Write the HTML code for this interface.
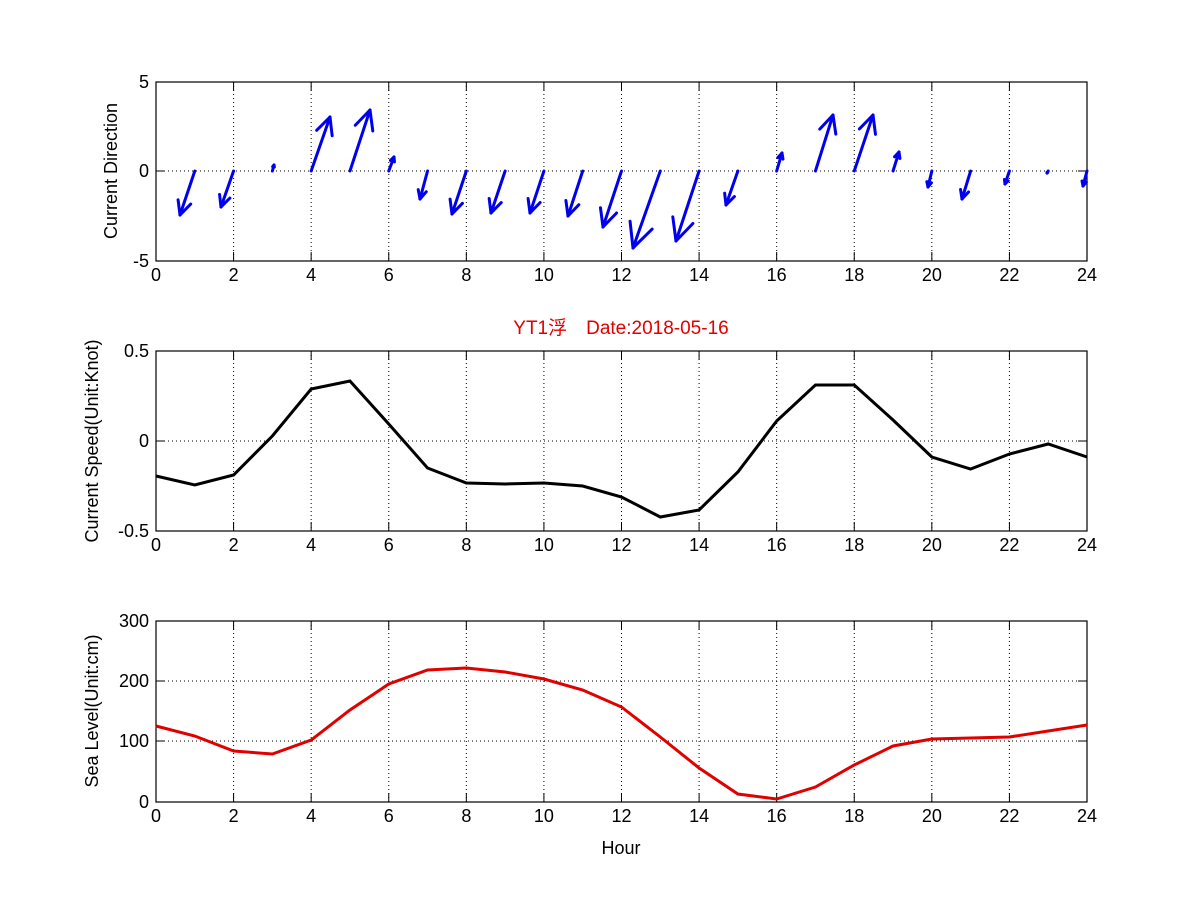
<!DOCTYPE html>
<html><head><meta charset="utf-8"><style>
body{margin:0;background:#fff;width:1201px;height:901px;overflow:hidden}
svg{display:block}
text{font-family:"Liberation Sans","Noto Sans CJK SC",sans-serif;font-size:18px;fill:#000}
</style></head><body>
<svg id="s" width="1201" height="901" xmlns="http://www.w3.org/2000/svg">
<rect width="1201" height="901" fill="#fff"/>
<g id="g"></g>
<text x="621" y="334" text-anchor="middle" style="fill:#e00000;font-size:19px">YT1浮　Date:2018-05-16</text>
<text x="621" y="854" text-anchor="middle">Hour</text>
<text transform="translate(117,171) rotate(-90)" text-anchor="middle">Current Direction</text>
<text transform="translate(98,441) rotate(-90)" text-anchor="middle">Current Speed(Unit:Knot)</text>
<text transform="translate(98,711) rotate(-90)" text-anchor="middle">Sea Level(Unit:cm)</text>
</svg>
<script>
const g=document.getElementById('g');let h='';
const X0=156,X1=1087,xs=h_=> X0+(X1-X0)*h_/24;
function axes(yt,yb,ticks,labels){
 for(let i=1;i<12;i++){const x=xs(i*2);h+=`<line x1="${x}" y1="${yt}" x2="${x}" y2="${yb}" stroke="#000" stroke-width="1" stroke-dasharray="1,3"/>`;}
 ticks.forEach((t,i)=>{if(i>0&&i<ticks.length-1)h+=`<line x1="${X0}" y1="${t}" x2="${X1}" y2="${t}" stroke="#000" stroke-width="1" stroke-dasharray="1,3"/>`;
  h+=`<text x="${X0-7}" y="${t+6}" text-anchor="end">${labels[i]}</text>`;
  h+=`<line x1="${X0}" y1="${t}" x2="${X0+9}" y2="${t}" stroke="#000"/><line x1="${X1}" y1="${t}" x2="${X1-9}" y2="${t}" stroke="#000"/>`;});
 for(let i=0;i<=12;i++){const x=xs(i*2);h+=`<line x1="${x}" y1="${yb}" x2="${x}" y2="${yb-9}" stroke="#000"/><line x1="${x}" y1="${yt}" x2="${x}" y2="${yt+9}" stroke="#000"/>`;
  h+=`<text x="${x}" y="${yb+20}" text-anchor="middle">${i*2}</text>`;}
 h+=`<rect x="${X0}" y="${yt}" width="${X1-X0}" height="${yb-yt}" fill="none" stroke="#000" stroke-width="1.2"/>`;
}
axes(82,261,[261,171,82],['-5','0','5']);
axes(351,531,[531,441,351],['-0.5','0','0.5']);
axes(621,802,[802,741,681,621],['0','100','200','300']);
const tips=[[180,215],[221,207],[274,165],[330,117],[370,110],[394,157],[420,199],[452,214],[491,213],[530,213],[568,216],[603,227],[633,248],[676,241],[726,205],[782,153],[833,115],[873,115],[899,152],[928,187],[962,199],[1005,184],[1047,173],[1083,186]];
tips.forEach((p,i)=>{const tx=xs(i+1),ty=171,[ex,ey]=p;const dx=ex-tx,dy=ey-ty,L=Math.hypot(dx,dy);
 h+=`<line x1="${tx}" y1="${ty}" x2="${ex}" y2="${ey}" stroke="#0000ee" stroke-width="3" stroke-linecap="round"/>`;
 if(L>0){const a=Math.atan2(dy,dx),hl=L*0.33;for(const s of [0.45,-0.45]){const bx=ex-hl*Math.cos(a+s),by=ey-hl*Math.sin(a+s);
  h+=`<line x1="${ex}" y1="${ey}" x2="${bx}" y2="${by}" stroke="#0000ee" stroke-width="3" stroke-linecap="round"/>`;}}});
const sp=[476,485,475,436,389,381,424,468,483,484,483,486,497,517,510,472,421,385,385,420,457,469,454,444,457];
h+=`<polyline fill="none" stroke="#000" stroke-width="3" points="${sp.map((y,i)=>xs(i)+','+y).join(' ')}"/>`;
const sl=[726,736,751,754,740,710,684,670,668,672,679,690,707,737,768,794,799,787,765,746,739,738,737,731,725];
h+=`<polyline fill="none" stroke="#e00000" stroke-width="3" points="${sl.map((y,i)=>xs(i)+','+y).join(' ')}"/>`;
g.innerHTML=h;
</script>
</body></html>
